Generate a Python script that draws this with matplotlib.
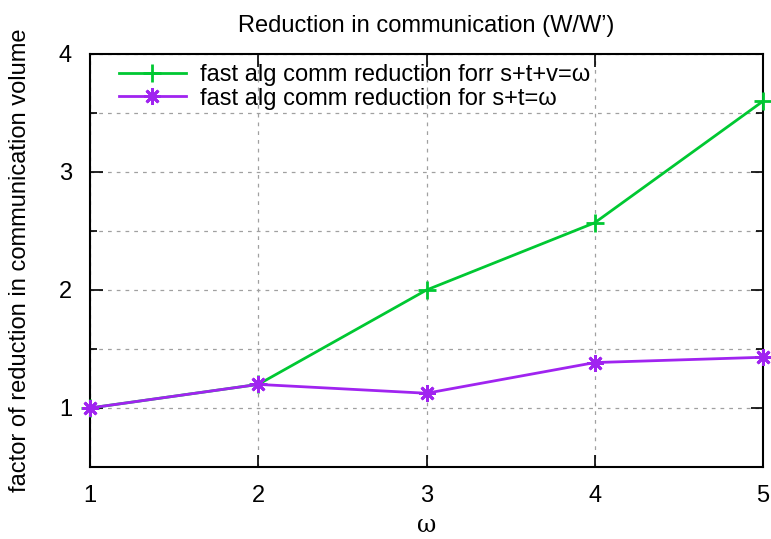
import matplotlib
matplotlib.use("Agg")
import matplotlib.pyplot as plt
from matplotlib.patches import Rectangle

omega = [1, 2, 3, 4, 5]
red_stv = [1.0, 1.2, 2.0, 2.57, 3.6]
red_st = [1.0, 1.2, 1.125, 1.385, 1.43]
label_stv = "fast alg comm reduction forr s+t+v=ω"
label_st = "fast alg comm reduction for s+t=ω"
title = "Reduction in communication (W/W’)"
xlabel = "ω"
ylabel = "factor of reduction in communication volume"
yticks_major = [1, 2, 3, 4]
yticks_minor = [1.5, 2.5, 3.5]

plt.rcParams['font.family'] = ['Liberation Sans', 'DejaVu Sans']
FS = 17

fig = plt.figure(figsize=(7.71, 5.39), dpi=100)
ax = fig.add_axes([90/771, 1-467/539, 673/771, 413/539])

ax.set_xlim(1, 5)
ax.set_ylim(0.5, 4)
ax.set_xticks(omega)
ax.set_yticks(yticks_major)
ax.set_yticks(yticks_minor, minor=True)
ax.tick_params(axis='both', which='both', direction='in', top=True, right=True,
               labelsize=FS, width=1.2)
ax.tick_params(which='major', length=9)
ax.tick_params(which='minor', length=5)
ax.tick_params(axis='x', pad=13)
ax.tick_params(axis='y', pad=13)
ax.grid(True, which='both', linestyle=(0, (3, 4)), color='#a0a0a0', linewidth=0.9)
for s in ax.spines.values():
    s.set_linewidth(1.5)

ax.add_patch(Rectangle((0.022, 0.86), 0.929, 0.14, transform=ax.transAxes,
                       facecolor='white', edgecolor='none', zorder=1.5))

ax.plot(omega, red_stv, color='#00c832', linewidth=2, marker='+', markersize=13,
        markeredgewidth=2, label=label_stv, zorder=3, clip_on=False)
ax.plot(omega, red_st, color='#a024f0', linewidth=2, marker=(8, 2, 0), markersize=12,
        markeredgewidth=2, label=label_st, zorder=3, clip_on=False)

leg = ax.legend(loc='upper left', bbox_to_anchor=(0.043, 0.975), frameon=False,
                fontsize=FS, handlelength=2.84, handletextpad=0.6,
                labelspacing=0.05, borderaxespad=0, borderpad=0)

ax.set_title(title, fontsize=FS, pad=16)
ax.set_xlabel(xlabel, fontsize=FS, family=['DejaVu Serif'], labelpad=5)
ax.set_ylabel(ylabel, fontsize=FS, labelpad=20)

fig.savefig("out.png", dpi=100)
